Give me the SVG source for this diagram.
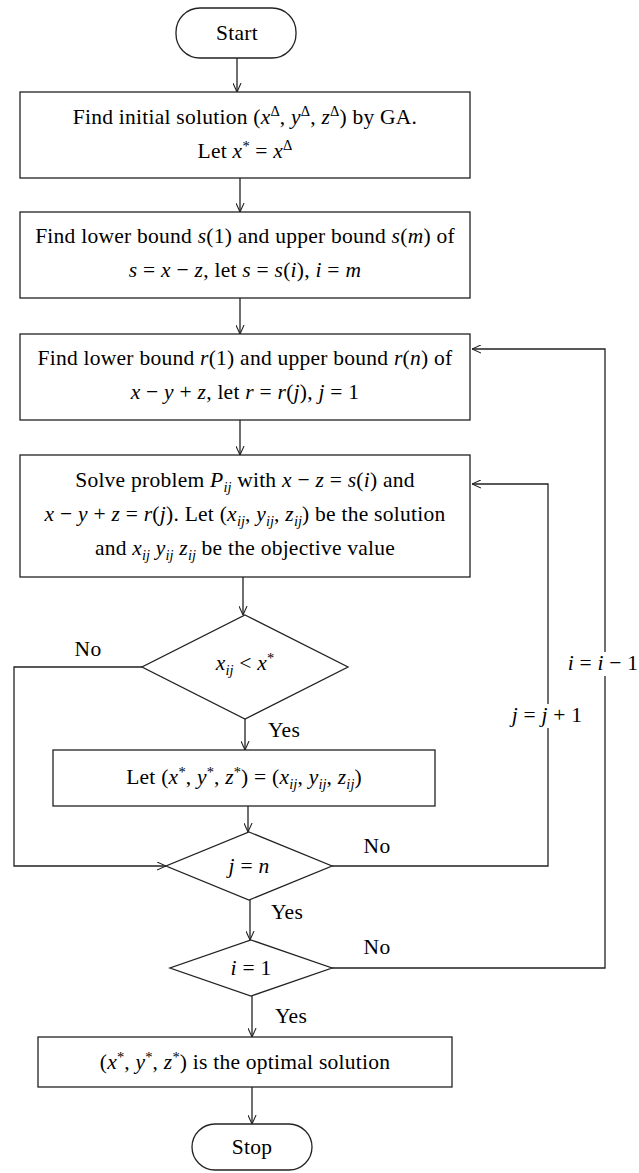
<svg xmlns="http://www.w3.org/2000/svg" width="639" height="1173" viewBox="0 0 639 1173">
<style>
text{font-family:"Liberation Serif","Times New Roman",serif;font-size:21.5px;letter-spacing:0.25px;fill:#000;text-anchor:middle}
.i{font-style:italic}
.s{font-size:14.5px;letter-spacing:0}
.shape{fill:#fff;stroke:#222;stroke-width:1.3}
.c{fill:none;stroke:#222;stroke-width:1.3}
.bg{fill:#fff;stroke:none}
</style>
<defs>
<marker id="ah" viewBox="0 0 10 10" refX="10" refY="5" markerWidth="9" markerHeight="9" markerUnits="userSpaceOnUse" orient="auto">
<path d="M0,0.5 L10,5 L0,9.5" fill="none" stroke="#222" stroke-width="1.2"/>
</marker>
</defs>
<rect width="639" height="1173" fill="#fff"/>
<g id="connectors">
<line class="c" x1="237" y1="58" x2="237" y2="92" marker-end="url(#ah)"/>
<line class="c" x1="240" y1="178" x2="240" y2="212" marker-end="url(#ah)"/>
<line class="c" x1="240" y1="298" x2="240" y2="334" marker-end="url(#ah)"/>
<line class="c" x1="240" y1="420" x2="240" y2="455" marker-end="url(#ah)"/>
<line class="c" x1="243" y1="577" x2="243" y2="615" marker-end="url(#ah)"/>
<polyline class="c" points="142,667 14,667 14,866 166,866" marker-end="url(#ah)"/>
<line class="c" x1="245" y1="719" x2="245" y2="750" marker-end="url(#ah)"/>
<line class="c" x1="248" y1="806" x2="248" y2="832" marker-end="url(#ah)"/>
<polyline class="c" points="332,866 548,866 548,484 472,484" marker-end="url(#ah)"/>
<line class="c" x1="250" y1="900" x2="250" y2="940" marker-end="url(#ah)"/>
<polyline class="c" points="332,968 605,968 605,349 472,349" marker-end="url(#ah)"/>
<line class="c" x1="252" y1="996" x2="252" y2="1037" marker-end="url(#ah)"/>
<line class="c" x1="252" y1="1087" x2="252" y2="1124" marker-end="url(#ah)"/>
<rect class="bg" x="564" y="652" width="80" height="24"/>
<text x="603" y="670"><tspan class="i">i</tspan> = <tspan class="i">i</tspan> − 1</text>
<rect class="bg" x="508" y="704" width="80" height="24"/>
<text x="547" y="722"><tspan class="i">j</tspan> = <tspan class="i">j</tspan> + 1</text>
<text x="88" y="656">No</text>
<text x="284" y="737">Yes</text>
<text x="377" y="853">No</text>
<text x="287" y="919">Yes</text>
<text x="377" y="954">No</text>
<text x="291" y="1023">Yes</text>
</g>
<g id="start">
<rect class="shape" x="176" y="8" width="120" height="50" rx="24"/>
<text x="237" y="40">Start</text>
</g>
<g id="init">
<rect class="shape" x="20" y="92" width="450" height="86"/>
<text x="245" y="124">Find initial solution (<tspan class="i">x</tspan><tspan class="s" dy="-8">Δ</tspan><tspan dy="8">, </tspan><tspan class="i">y</tspan><tspan class="s" dy="-8">Δ</tspan><tspan dy="8">, </tspan><tspan class="i">z</tspan><tspan class="s" dy="-8">Δ</tspan><tspan dy="8">) by GA.</tspan></text>
<text x="245" y="158">Let <tspan class="i">x</tspan><tspan class="s" dy="-7">*</tspan><tspan dy="7"> = </tspan><tspan class="i">x</tspan><tspan class="s" dy="-8">Δ</tspan></text>
</g>
<g id="bounds-s">
<rect class="shape" x="20" y="212" width="450" height="86"/>
<text x="245" y="243">Find lower bound <tspan class="i">s</tspan>(1) and upper bound <tspan class="i">s</tspan>(<tspan class="i">m</tspan>) of</text>
<text x="245" y="277"><tspan class="i">s</tspan> = <tspan class="i">x</tspan> − <tspan class="i">z</tspan>, let <tspan class="i">s</tspan> = <tspan class="i">s</tspan>(<tspan class="i">i</tspan>), <tspan class="i">i</tspan> = <tspan class="i">m</tspan></text>
</g>
<g id="bounds-r">
<rect class="shape" x="20" y="334" width="450" height="86"/>
<text x="245" y="365">Find lower bound <tspan class="i">r</tspan>(1) and upper bound <tspan class="i">r</tspan>(<tspan class="i">n</tspan>) of</text>
<text x="245" y="399"><tspan class="i">x</tspan> − <tspan class="i">y</tspan> + <tspan class="i">z</tspan>, let <tspan class="i">r</tspan> = <tspan class="i">r</tspan>(<tspan class="i">j</tspan>), <tspan class="i">j</tspan> = 1</text>
</g>
<g id="solve">
<rect class="shape" x="20" y="455" width="450" height="122"/>
<text x="245" y="487">Solve problem <tspan class="i">P</tspan><tspan class="s i" dy="5">ij</tspan><tspan dy="-5"> with </tspan><tspan class="i">x</tspan> − <tspan class="i">z</tspan> = <tspan class="i">s</tspan>(<tspan class="i">i</tspan>) and</text>
<text x="245" y="521"><tspan class="i">x</tspan> − <tspan class="i">y</tspan> + <tspan class="i">z</tspan> = <tspan class="i">r</tspan>(<tspan class="i">j</tspan>). Let (<tspan class="i">x</tspan><tspan class="s i" dy="5">ij</tspan><tspan dy="-5">, </tspan><tspan class="i">y</tspan><tspan class="s i" dy="5">ij</tspan><tspan dy="-5">, </tspan><tspan class="i">z</tspan><tspan class="s i" dy="5">ij</tspan><tspan dy="-5">) be the solution</tspan></text>
<text x="245" y="555">and <tspan class="i">x</tspan><tspan class="s i" dy="5">ij</tspan><tspan dy="-5"> </tspan><tspan class="i">y</tspan><tspan class="s i" dy="5">ij</tspan><tspan dy="-5"> </tspan><tspan class="i">z</tspan><tspan class="s i" dy="5">ij</tspan><tspan dy="-5"> be the objective value</tspan></text>
</g>
<g id="cmp">
<polygon class="shape" points="245,615 348,667 245,719 142,667"/>
<text x="245" y="670"><tspan class="i">x</tspan><tspan class="s i" dy="5">ij</tspan><tspan dy="-5"> &lt; </tspan><tspan class="i">x</tspan><tspan class="s" dy="-7">*</tspan></text>
</g>
<g id="update">
<rect class="shape" x="53" y="750" width="382" height="56"/>
<text x="244" y="784">Let (<tspan class="i">x</tspan><tspan class="s" dy="-7">*</tspan><tspan dy="7">, </tspan><tspan class="i">y</tspan><tspan class="s" dy="-7">*</tspan><tspan dy="7">, </tspan><tspan class="i">z</tspan><tspan class="s" dy="-7">*</tspan><tspan dy="7">) = (</tspan><tspan class="i">x</tspan><tspan class="s i" dy="5">ij</tspan><tspan dy="-5">, </tspan><tspan class="i">y</tspan><tspan class="s i" dy="5">ij</tspan><tspan dy="-5">, </tspan><tspan class="i">z</tspan><tspan class="s i" dy="5">ij</tspan><tspan dy="-5">)</tspan></text>
</g>
<g id="jn">
<polygon class="shape" points="249,832 332,866 249,900 166,866"/>
<text x="249" y="873"><tspan class="i">j</tspan> = <tspan class="i">n</tspan></text>
</g>
<g id="i1">
<polygon class="shape" points="251,940 332,968 251,996 170,968"/>
<text x="251" y="975"><tspan class="i">i</tspan> = 1</text>
</g>
<g id="optimal">
<rect class="shape" x="38" y="1037" width="414" height="50"/>
<text x="245" y="1069">(<tspan class="i">x</tspan><tspan class="s" dy="-7">*</tspan><tspan dy="7">, </tspan><tspan class="i">y</tspan><tspan class="s" dy="-7">*</tspan><tspan dy="7">, </tspan><tspan class="i">z</tspan><tspan class="s" dy="-7">*</tspan><tspan dy="7">) is the optimal solution</tspan></text>
</g>
<g id="stop">
<rect class="shape" x="192" y="1124" width="120" height="46" rx="23"/>
<text x="252" y="1154">Stop</text>
</g>
</svg>
